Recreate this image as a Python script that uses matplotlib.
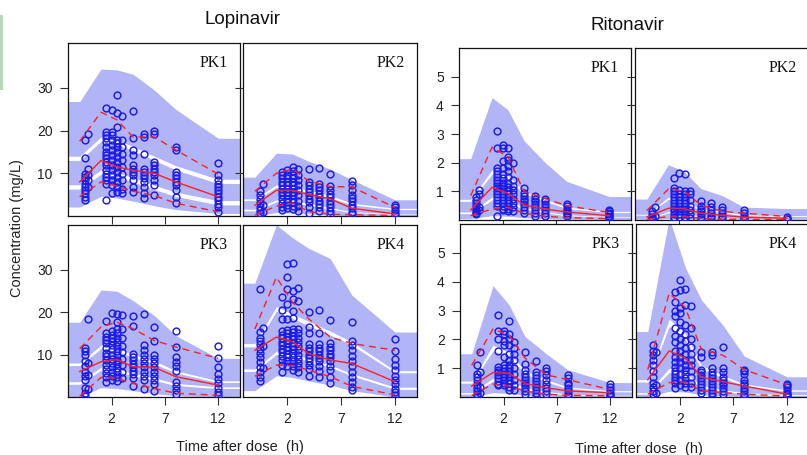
import matplotlib
matplotlib.use("Agg")
import matplotlib.pyplot as plt
from matplotlib.patches import Rectangle

plt.rcParams['font.family'] = ['Liberation Sans', 'DejaVu Sans']

# time bins (h) for the prediction bands and observed percentile lines
bin_t = [-1, 1, 2.5, 4, 6, 8, 12]
# nominal sampling times of the observations
obs_t = [-0.5, -0.25, 1.5, 2, 2.5, 3, 4, 5, 6, 8, 12]

# ---------------- Lopinavir ----------------
lpv1_bands = [  # (lo, hi) for 5th, 50th, 95th percentile bands
    ([2.1, 4.6, 4.2, 3.5, 2.4, 1.5, 0.6], [6.3, 9.8, 9.2, 8.0, 6.2, 4.6, 2.6]),
    ([7.3, 10.8, 10.2, 9.0, 7.2, 5.6, 3.6], [13.0, 17.5, 16.8, 15.3, 13.0, 10.8, 7.6]),
    ([14.0, 18.5, 17.8, 16.3, 14.0, 11.8, 8.6], [26.8, 34.4, 34.2, 33.2, 29.5, 25.0, 18.2]),
]
lpv1_p05 = [4.5, 8.0, 7.0, 5.8, 4.8, 3.0, 1.0]
lpv1_p50 = [8.0, 13.0, 11.5, 10.7, 10.0, 8.0, 4.5]
lpv1_p95 = [17.5, 24.3, 22.5, 18.5, 18.5, 15.5, 9.8]
lpv1_obs = [
    [17.8, 13.5, 9.9, 9.2, 8.4, 7.6, 6.8, 6.0, 5.3, 4.5, 3.7],
    [19.3, 11.1, 9.6, 8.4, 6.8],
    [25.2, 19.7, 18.9, 18.2, 17.4, 16.2, 15.0, 14.2, 13.5, 12.7, 11.9, 10.7, 9.9, 9.2, 8.4, 7.6, 3.7],
    [24.8, 19.7, 18.9, 17.8, 16.6, 15.4, 14.2, 13.1, 11.9, 10.7, 9.6, 8.4, 7.2, 5.3],
    [28.3, 24.2, 20.9, 17.8, 17.0, 16.2, 15.0, 13.9, 12.7, 11.5, 10.3, 9.2, 8.0, 6.8, 5.6],
    [23.4, 17.8, 16.2, 14.6, 13.1, 11.5, 9.9, 8.4, 6.4, 5.3],
    [24.6, 18.2, 15.4, 14.2, 11.9, 11.1, 10.3, 9.6, 8.4, 6.8, 5.6],
    [19.3, 18.5, 14.6, 11.1, 10.3, 9.6, 8.8, 8.0, 6.8, 5.3, 4.1],
    [20.0, 19.2, 12.7, 11.9, 11.1, 10.3, 9.6, 8.4, 7.2, 4.9],
    [16.2, 15.4, 10.3, 9.6, 8.8, 8.0, 7.2, 6.0, 4.5, 3.0],
    [12.3, 9.6, 8.4, 7.6, 6.8, 6.0, 5.3, 4.5, 3.7, 2.9, 2.1, 1.0],
]

lpv2_bands = [
    ([0.0, 0.8, 0.7, 0.5, 0.2, 0.0, 0.0], [1.2, 3.3, 3.1, 2.5, 1.6, 0.8, 0.4]),
    ([1.6, 3.8, 3.6, 3.0, 2.0, 1.0, 0.5], [3.6, 6.7, 6.4, 5.5, 4.3, 2.6, 1.5]),
    ([4.0, 7.3, 7.0, 6.0, 4.8, 3.0, 1.8], [9.1, 14.7, 14.5, 12.8, 11.0, 8.5, 3.8]),
]
lpv2_p05 = [0.2, 2.3, 3.0, 1.0, 0.4, 0.3, 0.1]
lpv2_p50 = [2.5, 6.0, 6.0, 5.0, 4.0, 1.8, 0.5]
lpv2_p95 = [5.8, 10.0, 11.0, 8.2, 6.9, 6.8, 2.0]
lpv2_obs = [
    [5.8, 5.0, 3.9, 3.0, 2.2, 1.4, 0.6],
    [7.4, 2.6, 1.0],
    [10.2, 9.6, 8.8, 8.0, 7.2, 6.4, 5.6, 4.8, 4.0, 3.0, 2.2, 1.5],
    [10.7, 9.6, 8.8, 8.0, 7.2, 6.4, 5.6, 4.8, 4.0, 3.3, 2.6, 1.8],
    [11.4, 10.6, 9.6, 8.8, 8.0, 7.2, 6.4, 5.6, 4.8, 4.0, 3.2, 2.4, 1.6],
    [11.1, 9.6, 8.4, 7.2, 6.0, 4.8, 3.6, 2.4, 1.2],
    [11.0, 8.0, 7.2, 6.4, 5.6, 4.8, 4.0, 3.2, 2.2, 0.8],
    [11.2, 7.6, 6.8, 6.0, 5.2, 4.4, 3.6, 2.8, 2.0, 1.2],
    [9.8, 7.0, 6.0, 5.2, 4.4, 3.6, 2.8, 2.0, 1.2, 0.5],
    [8.1, 7.2, 6.0, 5.0, 4.2, 3.4, 2.6, 1.8, 1.0, 0.4],
    [2.6, 2.0, 1.4, 0.8, 0.3],
]

lpv3_bands = [
    ([0.0, 2.2, 2.0, 1.5, 0.8, 0.3, 0.0], [3.0, 6.3, 6.0, 5.0, 3.9, 2.7, 2.0]),
    ([3.6, 7.0, 6.6, 5.6, 4.5, 3.2, 2.4], [7.4, 11.4, 10.8, 9.3, 7.8, 5.7, 3.4]),
    ([8.0, 12.2, 11.5, 10.0, 8.5, 6.2, 3.8], [17.6, 25.2, 24.9, 22.7, 19.2, 14.5, 9.1]),
]
lpv3_p05 = [0.2, 4.6, 4.4, 3.2, 2.0, 0.9, 0.4]
lpv3_p50 = [6.0, 8.3, 8.8, 7.1, 7.0, 4.8, 2.8]
lpv3_p95 = [11.4, 16.5, 17.6, 16.1, 13.3, 11.8, 9.1]
lpv3_obs = [
    [11.5, 10.8, 10.0, 8.4, 7.2, 6.0, 5.0, 4.0, 2.2, 1.0, 0.3],
    [18.3, 8.0, 5.2, 2.0],
    [17.8, 15.0, 14.2, 13.4, 12.6, 11.6, 10.4, 9.6, 8.6, 7.6, 6.6, 5.6, 4.6, 3.6],
    [19.8, 15.5, 14.7, 13.9, 13.1, 12.3, 11.2, 10.0, 9.0, 8.0, 7.0, 6.0, 5.0, 4.0],
    [19.5, 17.6, 15.9, 15.0, 14.0, 13.0, 12.0, 10.8, 9.8, 8.8, 7.8, 6.8, 5.8, 4.8, 3.8],
    [19.2, 16.0, 13.8, 12.0, 10.5, 9.0, 7.5, 6.0, 4.5],
    [19.0, 16.8, 10.2, 9.4, 8.6, 7.8, 7.0, 6.2, 5.4, 4.4, 2.6],
    [19.5, 12.2, 11.0, 10.0, 9.0, 8.0, 7.0, 6.0, 5.0, 4.0, 1.9],
    [16.4, 13.2, 10.0, 9.0, 8.0, 7.0, 6.0, 5.0, 4.0, 3.0, 1.3],
    [15.6, 11.8, 9.4, 8.2, 7.2, 6.2, 3.6, 2.6, 1.6, 0.6],
    [12.1, 9.2, 7.0, 5.4, 4.2, 3.2, 2.2, 1.2, 0.4],
]

lpv4_bands = [
    ([1.5, 5.0, 4.6, 3.8, 2.8, 1.5, 0.0], [6.0, 10.0, 9.5, 8.4, 7.0, 5.0, 1.8]),
    ([6.6, 10.8, 10.2, 9.0, 7.5, 5.5, 2.3], [11.8, 20.2, 18.5, 16.8, 14.6, 12.2, 5.7]),
    ([12.6, 21.3, 19.5, 17.8, 15.5, 13.0, 6.2], [26.8, 40.5, 37.5, 35.0, 32.6, 24.0, 15.3]),
]
lpv4_p05 = [4.9, 7.5, 7.4, 6.3, 4.8, 2.5, 0.5]
lpv4_p50 = [11.0, 14.1, 13.0, 10.2, 8.7, 7.9, 3.6]
lpv4_p95 = [16.0, 28.2, 22.3, 18.4, 14.1, 12.6, 11.0]
lpv4_obs = [
    [25.5, 15.4, 14.0, 13.2, 12.4, 11.4, 10.4, 9.4, 8.2, 7.0, 5.8, 4.8, 3.8],
    [16.2, 12.0, 6.8],
    [23.6, 20.5, 18.4, 15.5, 14.6, 13.8, 13.0, 12.2, 11.4, 10.5, 9.6, 8.6, 7.6, 5.8],
    [31.3, 28.3, 25.5, 22.0, 18.4, 15.8, 15.0, 14.2, 13.4, 12.6, 11.8, 11.0, 10.2, 9.4, 8.4, 7.4],
    [31.6, 25.0, 23.0, 20.2, 18.7, 16.0, 15.2, 14.4, 13.6, 12.8, 12.0, 11.2, 10.4, 9.4, 8.4, 7.4, 6.4],
    [25.7, 22.5, 16.0, 15.0, 14.0, 13.0, 12.0, 11.0, 10.0, 9.0, 8.0, 7.0, 6.0],
    [20.0, 16.6, 15.0, 12.5, 11.6, 10.8, 10.0, 9.2, 8.4, 7.5, 6.5, 5.0],
    [20.6, 15.1, 12.4, 11.6, 10.8, 10.0, 9.2, 8.4, 7.4, 6.2, 4.6],
    [18.1, 12.6, 11.8, 11.0, 10.2, 9.4, 8.4, 7.4, 6.4, 4.8, 3.4],
    [17.6, 13.3, 12.3, 11.0, 9.6, 8.4, 7.2, 6.0, 4.8, 3.6, 2.4, 1.7],
    [13.6, 10.9, 8.9, 7.6, 6.4, 5.0, 4.0, 3.0, 2.0, 1.2, 0.5],
]

# ---------------- Ritonavir ----------------
rtv1_bands = [
    ([0.05, 0.15, 0.13, 0.08, 0.05, 0.03, 0.02], [0.22, 0.70, 0.60, 0.38, 0.25, 0.15, 0.10]),
    ([0.28, 0.80, 0.70, 0.45, 0.30, 0.18, 0.12], [0.65, 1.60, 1.42, 0.92, 0.65, 0.40, 0.26]),
    ([0.72, 1.75, 1.55, 1.00, 0.72, 0.45, 0.30], [2.14, 4.27, 3.84, 2.77, 2.00, 1.35, 0.82]),
]
rtv1_p05 = [0.15, 0.38, 0.44, 0.24, 0.13, 0.08, 0.05]
rtv1_p50 = [0.35, 1.14, 0.93, 0.52, 0.38, 0.28, 0.15]
rtv1_p95 = [0.85, 2.54, 2.2, 1.0, 0.75, 0.5, 0.26]
rtv1_obs = [
    [0.8, 0.7, 0.6, 0.5, 0.4, 0.3, 0.25, 0.2],
    [1.05, 0.9, 0.45, 0.35],
    [3.1, 2.5, 1.8, 1.7, 1.6, 1.5, 1.4, 1.3, 1.2, 1.1, 1.0, 0.9, 0.8, 0.7, 0.6, 0.5, 0.15],
    [2.6, 2.5, 2.05, 1.8, 1.6, 1.45, 1.3, 1.2, 1.1, 1.0, 0.9, 0.8, 0.7, 0.6, 0.5, 0.4, 0.35],
    [2.5, 2.2, 2.1, 1.9, 1.7, 1.5, 1.3, 1.15, 1.0, 0.9, 0.8, 0.7, 0.6, 0.5, 0.4, 0.3],
    [2.0, 1.4, 1.2, 1.05, 0.9, 0.75, 0.6, 0.45, 0.3],
    [1.1, 0.95, 0.85, 0.75, 0.65, 0.55, 0.45, 0.35, 0.25],
    [0.85, 0.75, 0.65, 0.55, 0.45, 0.35, 0.25, 0.15],
    [0.75, 0.65, 0.55, 0.45, 0.35, 0.25, 0.15],
    [0.55, 0.48, 0.4, 0.33, 0.26, 0.2, 0.14],
    [0.35, 0.3, 0.25, 0.2, 0.15, 0.1, 0.06],
]

rtv2_bands = [
    ([0.0, 0.05, 0.04, 0.02, 0.01, 0.0, 0.0], [0.02, 0.25, 0.2, 0.1, 0.06, 0.03, 0.02]),
    ([0.03, 0.3, 0.25, 0.12, 0.08, 0.04, 0.03], [0.17, 0.72, 0.58, 0.35, 0.26, 0.15, 0.12]),
    ([0.2, 0.8, 0.65, 0.4, 0.3, 0.18, 0.15], [0.73, 1.93, 1.68, 1.1, 0.85, 0.45, 0.40]),
]
rtv2_p05 = [0.02, 0.12, 0.12, 0.06, 0.03, 0.02, 0.01]
rtv2_p50 = [0.1, 0.41, 0.39, 0.24, 0.16, 0.1, 0.06]
rtv2_p95 = [0.33, 1.08, 1.0, 0.52, 0.3, 0.24, 0.12]
rtv2_obs = [
    [0.3, 0.2, 0.12, 0.06, 0.02],
    [0.45, 0.15],
    [1.45, 1.1, 1.0, 0.9, 0.8, 0.7, 0.6, 0.5, 0.4, 0.3, 0.2, 0.1, 0.05],
    [1.65, 1.05, 0.9, 0.8, 0.7, 0.6, 0.5, 0.4, 0.3, 0.2, 0.1],
    [1.6, 1.0, 0.9, 0.8, 0.7, 0.6, 0.5, 0.4, 0.3, 0.2, 0.1, 0.04],
    [1.0, 0.9, 0.7, 0.5, 0.35, 0.2, 0.08],
    [0.65, 0.5, 0.4, 0.3, 0.2, 0.1, 0.05],
    [0.6, 0.45, 0.35, 0.25, 0.15, 0.06],
    [0.45, 0.35, 0.25, 0.15, 0.07],
    [0.35, 0.25, 0.15, 0.08, 0.03],
    [0.1, 0.05, 0.02],
]

rtv3_bands = [
    ([0.0, 0.15, 0.12, 0.06, 0.03, 0.01, 0.0], [0.1, 0.55, 0.47, 0.26, 0.15, 0.07, 0.04]),
    ([0.15, 0.65, 0.55, 0.32, 0.2, 0.1, 0.06], [0.48, 1.6, 1.4, 0.8, 0.52, 0.3, 0.18]),
    ([0.55, 1.8, 1.55, 0.9, 0.6, 0.35, 0.22], [1.5, 3.86, 3.2, 2.1, 1.5, 0.95, 0.5]),
]
rtv3_p05 = [0.05, 0.45, 0.38, 0.2, 0.1, 0.06, 0.04]
rtv3_p50 = [0.38, 0.85, 0.82, 0.47, 0.32, 0.21, 0.15]
rtv3_p95 = [1.1, 2.36, 2.15, 1.35, 0.77, 0.6, 0.26]
rtv3_obs = [
    [1.1, 0.8, 0.7, 0.6, 0.4, 0.3, 0.2, 0.1, 0.05],
    [1.55, 0.85, 0.35, 0.15],
    [2.85, 2.3, 2.0, 1.6, 1.05, 0.95, 0.85, 0.75, 0.65, 0.55, 0.45, 0.4],
    [2.3, 2.2, 1.95, 1.8, 1.4, 1.1, 1.0, 0.9, 0.8, 0.7, 0.6, 0.5, 0.4],
    [2.65, 2.2, 2.0, 1.8, 1.5, 1.3, 1.1, 1.0, 0.9, 0.8, 0.7, 0.6, 0.5, 0.35, 0.25],
    [1.9, 1.7, 1.5, 1.3, 1.0, 0.8, 0.6, 0.4, 0.25],
    [1.55, 1.15, 0.95, 0.8, 0.7, 0.6, 0.5, 0.4, 0.3, 0.2, 0.1],
    [1.25, 0.85, 0.75, 0.65, 0.55, 0.45, 0.35, 0.25, 0.15, 0.05],
    [1.0, 0.9, 0.75, 0.6, 0.45, 0.3, 0.2, 0.1],
    [0.75, 0.65, 0.5, 0.4, 0.3, 0.2, 0.1, 0.05],
    [0.45, 0.35, 0.25, 0.15, 0.08, 0.03],
]

rtv4_bands = [
    ([0.0, 0.2, 0.17, 0.08, 0.04, 0.02, 0.0], [0.1, 0.85, 0.72, 0.33, 0.2, 0.1, 0.05]),
    ([0.15, 1.0, 0.85, 0.4, 0.25, 0.15, 0.08], [0.52, 2.45, 2.0, 0.98, 0.66, 0.4, 0.2]),
    ([0.6, 2.7, 2.2, 1.1, 0.75, 0.45, 0.25], [2.27, 6.2, 4.5, 3.37, 2.5, 1.42, 0.7]),
]
rtv4_p05 = [0.1, 0.5, 0.52, 0.22, 0.15, 0.1, 0.03]
rtv4_p50 = [0.6, 1.6, 1.35, 0.69, 0.53, 0.38, 0.1]
rtv4_p95 = [0.95, 3.6, 3.1, 1.65, 1.45, 0.95, 0.42]
rtv4_obs = [
    [1.8, 1.6, 1.45, 1.3, 1.1, 0.9, 0.7, 0.5, 0.35, 0.2, 0.1],
    [1.55, 0.4, 0.15],
    [3.65, 3.3, 3.0, 2.8, 2.4, 2.1, 1.9, 1.6, 1.4, 1.2, 1.05, 0.9, 0.8, 0.7, 0.6, 0.5, 0.3],
    [4.05, 3.7, 3.1, 2.9, 2.6, 2.3, 2.0, 1.8, 1.6, 1.4, 1.2, 1.0, 0.8, 0.6, 0.4],
    [3.75, 3.2, 2.5, 2.2, 1.95, 1.7, 1.5, 1.3, 1.1, 0.95, 0.8, 0.65, 0.5, 0.35],
    [3.15, 2.4, 2.0, 1.75, 1.5, 1.3, 1.1, 0.9, 0.7, 0.5, 0.35],
    [1.55, 1.4, 0.95, 0.85, 0.75, 0.65, 0.55, 0.45, 0.35, 0.25, 0.15],
    [1.55, 1.45, 1.0, 0.85, 0.75, 0.65, 0.55, 0.45, 0.35, 0.25, 0.15, 0.05],
    [1.75, 1.0, 0.85, 0.7, 0.6, 0.5, 0.4, 0.3, 0.2, 0.1],
    [0.95, 0.9, 0.8, 0.6, 0.5, 0.4, 0.3, 0.2, 0.1, 0.05],
    [0.45, 0.4, 0.35, 0.25, 0.15, 0.1, 0.05, 0.02],
]

x_ticks = [2, 7, 12]
lpv_yticks = [10, 20, 30]
rtv_yticks = [1, 2, 3, 4, 5]

BAND = '#b1b4f7'
PT = '#1c1ce8'
RED = '#ff1f1f'
TXT = '#222222'

W, H = 807, 455
fig = plt.figure(figsize=(W / 100, H / 100), dpi=100)


def new_ax(x0, y0, x1, y1):
    # pixel box -> figure fraction
    return fig.add_axes([x0 / W, 1 - y1 / H, (x1 - x0) / W, (y1 - y0) / H])


def draw_panel(ax, bands, p05, p50, p95, obs, ylim, yticks, label,
               show_x, show_y):
    ax.set_xlim(-2.1, 14.05)
    ax.set_ylim(*ylim)
    x0, x1 = ax.get_xlim()
    xb = [x0] + bin_t + [x1]
    for lo, hi in bands:
        ax.fill_between(xb, [lo[0]] + lo + [lo[-1]], [hi[0]] + hi + [hi[-1]],
                        color=BAND, lw=0, zorder=1)
    for t, vals in zip(obs_t, obs):
        ax.plot([t] * len(vals), vals, 'o', mfc='none', mec=PT, mew=1.05,
                ms=4.9, zorder=3)
    ax.plot(bin_t, p50, color=RED, lw=1.0, zorder=4)
    for p in (p05, p95):
        ax.plot(bin_t, p, color=RED, lw=1.0, ls=(0, (5, 3.5)), zorder=4)
    ax.set_xticks(x_ticks)
    ax.set_yticks(yticks)
    ax.tick_params(direction='out', length=5.5, width=0.8, pad=5.5,
                   labelsize=10, colors='#333333', labelcolor=TXT,
                   labelbottom=show_x, labelleft=show_y)
    for s in ax.spines.values():
        s.set_linewidth(0.9)
        s.set_color('#111111')
    ax.text(0.93, 0.885, label, transform=ax.transAxes, ha='right', va='center',
            fontsize=11.5, family=['Liberation Serif', 'DejaVu Serif'], color='#111111',
            zorder=5)


lpv_panels = [
    ((68, 43, 240, 216), lpv1_bands, lpv1_p05, lpv1_p50, lpv1_p95, lpv1_obs, 'PK1', False, True),
    ((243, 43, 417, 216), lpv2_bands, lpv2_p05, lpv2_p50, lpv2_p95, lpv2_obs, 'PK2', False, False),
    ((68, 225, 240, 397), lpv3_bands, lpv3_p05, lpv3_p50, lpv3_p95, lpv3_obs, 'PK3', True, True),
    ((243, 225, 417, 397), lpv4_bands, lpv4_p05, lpv4_p50, lpv4_p95, lpv4_obs, 'PK4', True, False),
]
rtv_panels = [
    ((459, 48, 631, 220), rtv1_bands, rtv1_p05, rtv1_p50, rtv1_p95, rtv1_obs, 'PK1', False, True),
    ((635, 48, 809, 220), rtv2_bands, rtv2_p05, rtv2_p50, rtv2_p95, rtv2_obs, 'PK2', False, False),
    ((460, 224, 632, 397), rtv3_bands, rtv3_p05, rtv3_p50, rtv3_p95, rtv3_obs, 'PK3', True, True),
    ((636, 224, 809, 397), rtv4_bands, rtv4_p05, rtv4_p50, rtv4_p95, rtv4_obs, 'PK4', True, False),
]

for box, bands, p05, p50, p95, obs, label, sx, sy in lpv_panels:
    draw_panel(new_ax(*box), bands, p05, p50, p95, obs, (0, 40.5), lpv_yticks,
               label, sx, sy)
for box, bands, p05, p50, p95, obs, label, sx, sy in rtv_panels:
    draw_panel(new_ax(*box), bands, p05, p50, p95, obs, (0, 6.0), rtv_yticks,
               label, sx, sy)

# titles and axis labels
fig.text(242 / W, 1 - 20 / H, 'Lopinavir', ha='center', va='center',
         fontsize=13.5, color='#111111')
fig.text(627 / W, 1 - 25 / H, 'Ritonavir', ha='center', va='center',
         fontsize=13.5, color='#111111')
fig.text(17 / W, 1 - 228 / H, 'Concentration (mg/L)', rotation=90,
         ha='center', va='center', fontsize=10.5, color=TXT)
fig.text(240 / W, 1 - 447 / H, 'Time after dose  (h)', ha='center',
         va='center', fontsize=10.5, color=TXT)
fig.text(639 / W, 1 - 449 / H, 'Time after dose  (h)', ha='center',
         va='center', fontsize=10.5, color=TXT)

# thin green strip at the left edge of the slide
fig.add_artist(Rectangle((0, 1 - 90 / H), 3 / W, 75 / H,
                         transform=fig.transFigure, color='#b9d6b9', lw=0))

fig.savefig('out.png', dpi=100)
